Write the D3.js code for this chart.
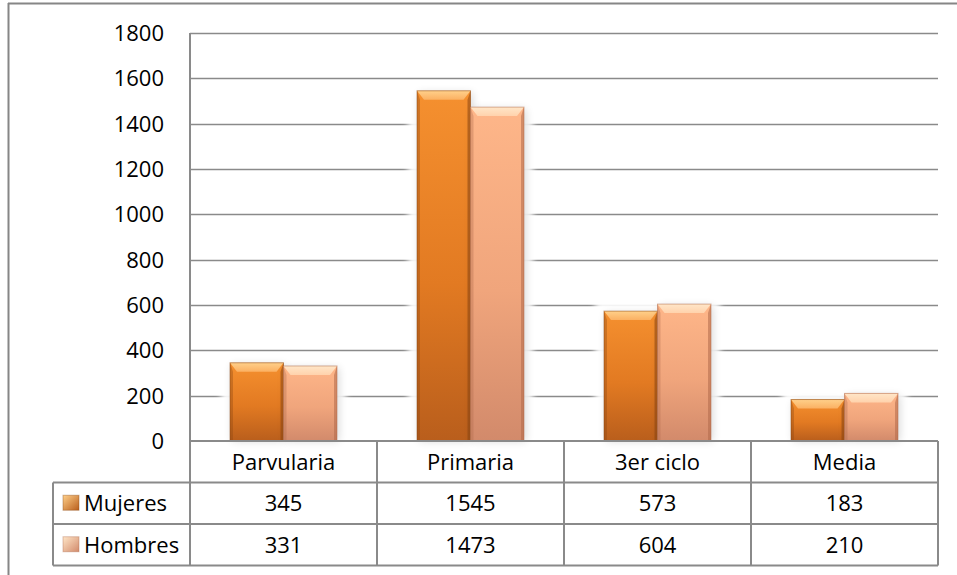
<!DOCTYPE html>
<html><head><meta charset="utf-8">
<script src="https://cdn.jsdelivr.net/npm/d3@7"></script>
<style>
html,body{margin:0;padding:0;background:#fff;}
svg{display:block;font-family:"Open Sans",sans-serif;}
</style></head>
<body>
<svg id="c" width="957" height="575"></svg>
<script>
const categories = ["Parvularia","Primaria","3er ciclo","Media"];
const seriesNames = ["Mujeres","Hombres"];
const mujeres = [345,1545,573,183];
const hombres = [331,1473,604,210];
const yTicks = [0,200,400,600,800,1000,1200,1400,1600,1800];

const seriesValues = [mujeres, hombres];
const svg = d3.select("#c");
const L = 190, R = 938, T = 33, B = 441;
const rowH = 41.5;
const grid = "#8a8a8a";

const x0 = d3.scaleBand().domain(categories).range([L, R]).padding(0);
const x1 = d3.scaleBand().domain(seriesNames).range([40, x0.bandwidth() - 40]).padding(0);
const y = d3.scaleLinear().domain([0, 1800]).range([B, T]);

const defs = svg.append("defs");
const pal = {
  Mujeres: {top:"#f5902f", mid:"#e27a22", bot:"#b95e1c", bevel:"#fbb062", hi:"#ffd08a", edge:"#8a4512"},
  Hombres: {top:"#feb689", mid:"#f0a57c", bot:"#d28a6b", bevel:"#ffd2ac", hi:"#ffe6c8", edge:"#b06a4a"}
};
seriesNames.forEach((s,i)=>{
  const p = pal[s];
  const g = defs.append("linearGradient").attr("id","g"+i).attr("x1",0).attr("y1",0).attr("x2",0).attr("y2",1);
  g.append("stop").attr("offset","0%").attr("stop-color",p.top);
  g.append("stop").attr("offset","55%").attr("stop-color",p.mid);
  g.append("stop").attr("offset","100%").attr("stop-color",p.bot);
  const h = defs.append("linearGradient").attr("id","h"+i).attr("x1",0).attr("y1",0).attr("x2",0).attr("y2",1);
  h.append("stop").attr("offset","0%").attr("stop-color",p.hi);
  h.append("stop").attr("offset","100%").attr("stop-color",p.bevel);
  const sw = defs.append("linearGradient").attr("id","sw"+i).attr("x1",0).attr("y1",0).attr("x2",1).attr("y2",1);
  sw.append("stop").attr("offset","0%").attr("stop-color",p.hi);
  sw.append("stop").attr("offset","100%").attr("stop-color",p.bot);
});
const blur = defs.append("filter").attr("id","halo").attr("x","-50%").attr("y","-50%").attr("width","200%").attr("height","200%");
blur.append("feGaussianBlur").attr("stdDeviation",3);
const blur2 = defs.append("filter").attr("id","shadow").attr("x","-50%").attr("y","-50%").attr("width","200%").attr("height","200%");
blur2.append("feGaussianBlur").attr("stdDeviation",4);

// outer border
svg.append("line").attr("x1",8).attr("x2",957).attr("y1",3.5).attr("y2",3.5).attr("stroke","#868686").attr("stroke-width",2);
svg.append("line").attr("x1",8.5).attr("x2",8.5).attr("y1",3).attr("y2",575).attr("stroke","#868686").attr("stroke-width",2);

// gridlines
svg.append("g").selectAll("line").data(yTicks.filter(d=>d>0)).join("line")
  .attr("x1",L).attr("x2",R).attr("y1",d=>Math.round(y(d))+0.5).attr("y2",d=>Math.round(y(d))+0.5)
  .attr("stroke",grid).attr("stroke-width",1.5);

// y labels
svg.append("g").selectAll("text").data(yTicks).join("text")
  .attr("x",164).attr("y",d=>y(d)).attr("dy","0.36em").attr("text-anchor","end")
  .attr("font-size",22).attr("fill","#000").text(d=>d);

const groups = svg.append("g").selectAll("g").data(categories).join("g")
  .attr("transform",c=>`translate(${x0(c)},0)`);
// halo behind bar pairs
groups.append("rect")
  .attr("x",x1(seriesNames[0])-9).attr("width",x1.bandwidth()*2+18)
  .attr("y",(c,ci)=>y(d3.max(seriesValues,sv=>sv[ci]))-4)
  .attr("height",(c,ci)=>B - y(d3.max(seriesValues,sv=>sv[ci]))+4)
  .attr("fill","#fff").attr("opacity",0.95).attr("filter","url(#halo)");

const bars = groups.selectAll("g.bar").data((c,ci)=>seriesNames.map((s,si)=>({c,s,si,v:seriesValues[si][ci]}))).join("g").attr("class","bar");
bars.each(function(d){
  const g = d3.select(this);
  const bx = x1(d.s), bw = x1.bandwidth(), by = y(d.v), bh = B - y(d.v);
  const p = pal[d.s];
  const b = Math.min(9, bh/3), sb = 3;
  g.append("rect").attr("x",bx+2).attr("y",by+2).attr("width",bw).attr("height",bh-2)
    .attr("fill","#000").attr("opacity",0.15).attr("filter","url(#shadow)");
  g.append("rect").attr("x",bx).attr("y",by).attr("width",bw).attr("height",bh).attr("fill",`url(#g${d.si})`);
  g.append("path").attr("d",`M${bx},${by}L${bx+sb},${by+b}L${bx+sb},${B}L${bx},${B}Z`).attr("fill",p.edge).attr("opacity",0.35);
  g.append("path").attr("d",`M${bx+bw},${by}L${bx+bw-sb},${by+b}L${bx+bw-sb},${B}L${bx+bw},${B}Z`).attr("fill",p.edge).attr("opacity",0.55);
  g.append("path").attr("d",`M${bx},${by}L${bx+bw},${by}L${bx+bw-sb-4},${by+b}L${bx+sb+4},${by+b}Z`).attr("fill",`url(#h${d.si})`);
  g.append("rect").attr("x",bx).attr("y",by).attr("width",bw).attr("height",bh).attr("fill","none").attr("stroke",p.edge).attr("stroke-opacity",0.5).attr("stroke-width",1);
});

// axis/table lines
const tl = svg.append("g").attr("stroke",grid).attr("stroke-width",2);
tl.append("line").attr("x1",L).attr("x2",L).attr("y1",T).attr("y2",B+rowH*3);
const rowsY = [B, B+rowH, B+rowH*2, B+rowH*3];
tl.selectAll("line.h").data(rowsY).join("line").attr("class","h")
  .attr("x1",(d,i)=>i===0?L:53).attr("x2",R).attr("y1",d=>d).attr("y2",d=>d);
tl.selectAll("line.v").data(categories).join("line").attr("class","v")
  .attr("x1",c=>x0(c)+x0.bandwidth()).attr("x2",c=>x0(c)+x0.bandwidth()).attr("y1",B).attr("y2",B+rowH*3);
tl.append("line").attr("x1",53).attr("x2",53).attr("y1",B+rowH).attr("y2",B+rowH*3);

// header text
svg.append("g").selectAll("text").data(categories).join("text")
  .attr("x",c=>x0(c)+x0.bandwidth()/2).attr("y",B+rowH/2).attr("dy","0.36em")
  .attr("text-anchor","middle").attr("font-size",22).text(c=>c);

// rows
seriesNames.forEach((s,si)=>{
  const cy = B + rowH*(si+1) + rowH/2;
  svg.append("rect").attr("x",63).attr("y",cy-8).attr("width",16).attr("height",15)
    .attr("fill",`url(#sw${si})`).attr("stroke",pal[s].edge).attr("stroke-opacity",0.4);
  svg.append("text").attr("x",84).attr("y",cy).attr("dy","0.36em").attr("font-size",22).text(s);
  svg.append("g").selectAll("text").data(categories).join("text")
    .attr("x",c=>x0(c)+x0.bandwidth()/2).attr("y",cy).attr("dy","0.36em")
    .attr("text-anchor","middle").attr("font-size",22).text((c,ci)=>seriesValues[si][ci]);
});
</script>
</body></html>
